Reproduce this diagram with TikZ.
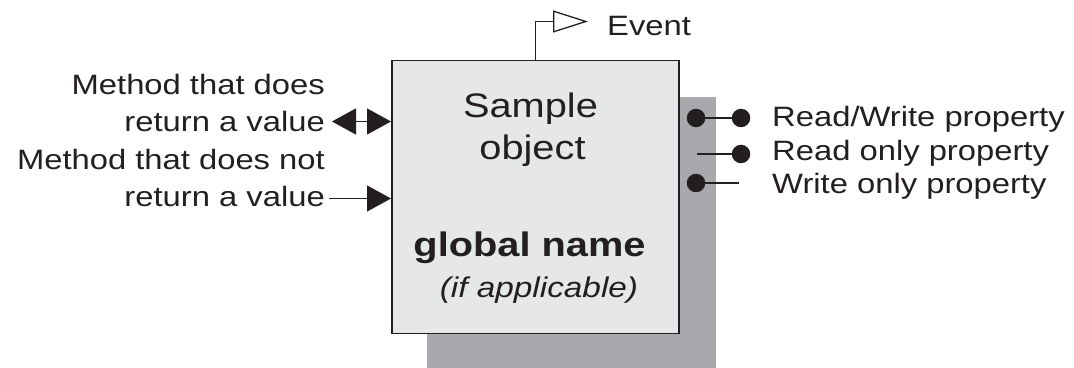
\documentclass[tikz,border=0pt]{standalone}
\usepackage{fontspec}
\setmainfont{Liberation Sans}
\usepackage{graphicx}
\usetikzlibrary{arrows.meta}
\definecolor{boxfill}{HTML}{E6E7E8}
\definecolor{shadowgray}{HTML}{A7A9AC}
\definecolor{ink}{HTML}{231F20}
\newcommand\hx[1]{\scalebox{1.17}[1]{#1}}
\begin{document}
\begin{tikzpicture}[x=1pt,y=1pt,
  lbl/.style={inner sep=0pt, text=ink, font=\fontsize{28}{34}\selectfont},
  ttl/.style={inner sep=0pt, text=ink, font=\fontsize{34}{40}\selectfont},
  conn/.style={draw=ink, line width=1.3pt},
  dotc/.style={circle, fill=ink, inner sep=0pt, minimum size=18.5pt},
]
\useasboundingbox (0,0) rectangle (1074,367);
\node[fill=shadowgray, minimum width=289, minimum height=290, inner sep=0, anchor=north west] (shadow) at (427,270) {};
\node[draw=ink, line width=1.5pt, fill=boxfill, minimum width=287, minimum height=273, inner sep=0, anchor=north west] (box) at (391,307) {};
% box texts
\node[ttl, anchor=base] (sample) at (530.5,249) {\hx{Sample}};
\node[ttl, anchor=base] (object) at (532.5,207) {\hx{object}};
\node[inner sep=0pt, text=ink, anchor=base, font=\fontsize{34}{40}\selectfont\bfseries] (gname) at (529.5,110) {\hx{global name}};
\node[inner sep=0pt, text=ink, anchor=base, font=\fontsize{28.5}{34}\selectfont\itshape] (ifapp) at (539,69) {\hx{(if applicable)}};
% event
\coordinate (evend) at (588,345.5);
\draw[conn, -{Triangle[open, length=35pt, width=22pt]}] (box.north) |- (evend);
\node[lbl, anchor=base west] (event) at (607,331) {\hx{Event}};
% left methods
\node[lbl, anchor=base east] (m1a) at (325,272) {\hx{Method that does}};
\node[lbl, anchor=base east] (m1b) at (325,235) {\hx{return a value}};
\node[lbl, anchor=base east] (m2a) at (325,197) {\hx{Method that does not}};
\node[lbl, anchor=base east] (m2b) at (325,160) {\hx{return a value}};
\coordinate (a1) at (332,245.5);
\coordinate (a2) at (329,168.5);
\draw[conn, {Triangle[length=24pt,width=26pt]}-{Triangle[length=24pt,width=26pt]}] (a1) -- (a1 -| box.west);
\draw[conn, -{Triangle[length=24pt,width=26pt]}] (a2) -- (a2 -| box.west);
% right properties
\node[dotc] (d1a) at (696,249) {};
\node[dotc] (d1b) at (741,249) {};
\draw[conn] (d1a) -- (d1b);
\coordinate (r2s) at (697,213);
\node[dotc] (d2b) at (741,213) {};
\draw[conn] (r2s) -- (d2b);
\node[dotc] (d3a) at (696,184) {};
\coordinate (r3e) at (739,184);
\draw[conn] (d3a) -- (r3e);
\node[lbl, anchor=base west] (p1) at (772,240) {\hx{Read/Write property}};
\node[lbl, anchor=base west] (p2) at (772,206) {\hx{Read only property}};
\node[lbl, anchor=base west] (p3) at (772,173) {\hx{Write only property}};
\end{tikzpicture}
\end{document}
